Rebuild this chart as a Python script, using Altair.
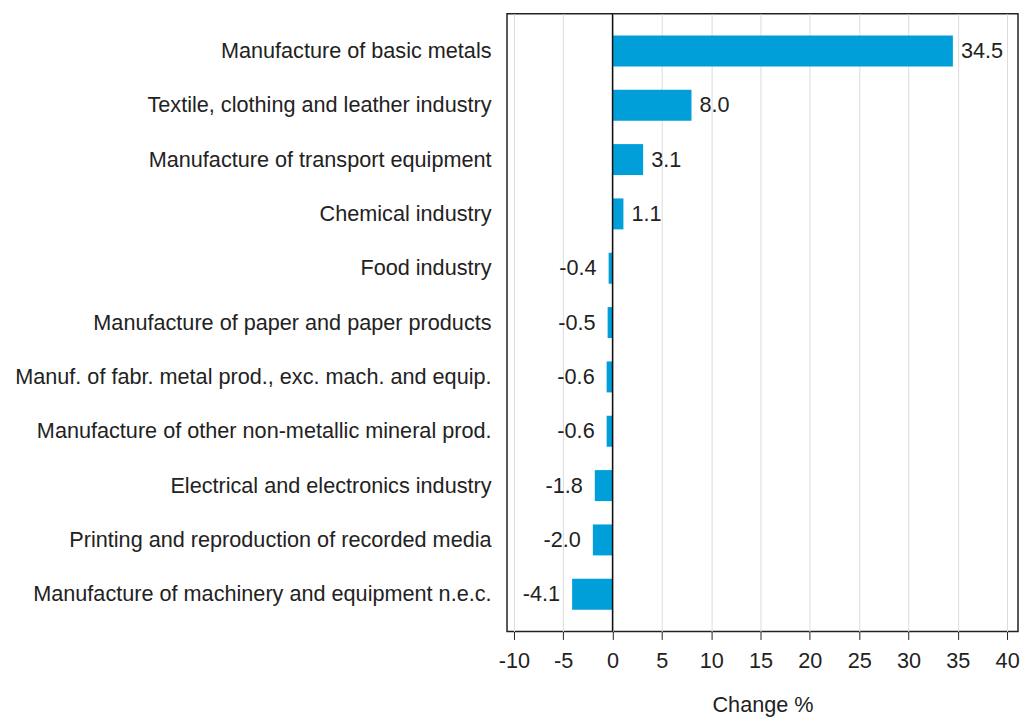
import altair as alt
import pandas as pd

categories = [
    "Manufacture of basic metals",
    "Textile, clothing and leather industry",
    "Manufacture of transport equipment",
    "Chemical industry",
    "Food industry",
    "Manufacture of paper and paper products",
    "Manuf. of fabr. metal prod., exc. mach. and equip.",
    "Manufacture of other non-metallic mineral prod.",
    "Electrical and electronics industry",
    "Printing and reproduction of recorded media",
    "Manufacture of machinery and equipment n.e.c.",
]
values = [34.5, 8.0, 3.1, 1.1, -0.4, -0.5, -0.6, -0.6, -1.8, -2.0, -4.1]
x_ticks = [-10, -5, 0, 5, 10, 15, 20, 25, 30, 35, 40]

df = pd.DataFrame({"cat": categories, "val": values})
df["label"] = [f"{v:.1f}" for v in values]

FONT = "Liberation Sans"
FS = 21.7

x_scale = alt.Scale(domain=[-10.7, 41.1], nice=False, zero=False)
y_enc = alt.Y("cat:N", sort=categories, title=None,
              scale=alt.Scale(paddingInner=0.43, paddingOuter=0.4),
              axis=alt.Axis(ticks=False, domain=False, labelPadding=16,
                            labelFont=FONT, labelFontSize=FS, labelColor="#222",
                            labelLimit=700))

bars = alt.Chart(df).mark_bar(color="#009FDA").encode(
    x=alt.X("val:Q", scale=x_scale, title="Change %",
            axis=alt.Axis(values=x_ticks, grid=True, gridColor="#dcdcdc",
                          domain=False, tickColor="#222", tickSize=8,
                          labelExpr="'' + datum.value",
                          labelFont=FONT, labelFontSize=FS, labelColor="#222",
                          labelPadding=11, titleFont=FONT, titleFontSize=FS,
                          titleFontWeight="normal", titleColor="#222",
                          titlePadding=22)),
    y=y_enc,
)

pos = alt.Chart(df).transform_filter("datum.val >= 0").mark_text(
    align="left", baseline="middle", dx=8, font=FONT, fontSize=FS, color="#222"
).encode(x=alt.X("val:Q", scale=x_scale), y=alt.Y("cat:N", sort=categories), text="label:N")

neg = alt.Chart(df).transform_filter("datum.val < 0").mark_text(
    align="right", baseline="middle", dx=-12, font=FONT, fontSize=FS, color="#222"
).encode(x=alt.X("val:Q", scale=x_scale), y=alt.Y("cat:N", sort=categories), text="label:N")

zero = alt.Chart(pd.DataFrame({"z": [0]})).mark_rule(color="#111", strokeWidth=1.5).encode(
    x=alt.X("z:Q", scale=x_scale)
)

chart = alt.layer(bars, zero, pos, neg).properties(
    width=512, height=619, background="white",
    autosize=alt.AutoSizeParams(type="none"),
    padding={"left": 500, "right": 2, "top": 5, "bottom": 86},
).configure_view(stroke="#222", strokeWidth=1.5)

chart.save("out.html", embed_options={"renderer": "svg", "actions": False})
